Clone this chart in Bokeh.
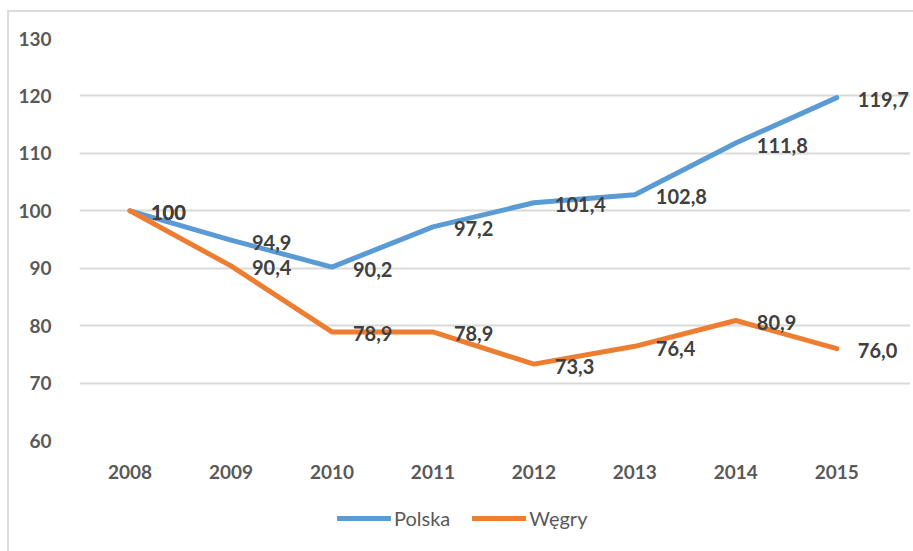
from bokeh.plotting import figure
from bokeh.models import ColumnDataSource, Legend, LegendItem, FixedTicker, Range1d, InlineStyleSheet
from bokeh.layouts import column
from bokeh.core.properties import value
from bokeh.embed import file_html
from bokeh.resources import INLINE

years = ["2008", "2009", "2010", "2011", "2012", "2013", "2014", "2015"]
polska = [100, 94.9, 90.2, 97.2, 101.4, 102.8, 111.8, 119.7]
wegry = [100, 90.4, 78.9, 78.9, 73.3, 76.4, 80.9, 76.0]
polska_labels = ["100", "94,9", "90,2", "97,2", "101,4", "102,8", "111,8", "119,7"]
wegry_labels = ["100", "90,4", "78,9", "78,9", "73,3", "76,4", "80,9", "76,0"]
y_ticks = [60, 70, 80, 90, 100, 110, 120, 130]

BLUE = "#5B9BD5"
ORANGE = "#ED7D31"
FONT = "Lato"

idx = list(range(len(years)))

p = figure(x_range=Range1d(-0.5, 7.73), y_range=Range1d(60, 130), width=910, height=488,
           output_backend="svg", toolbar_location=None,
           min_border_left=79, min_border_right=0, min_border_top=38, min_border_bottom=48)
p.outline_line_color = None

src_p = ColumnDataSource(dict(x=idx, y=polska, t=polska_labels))
src_w = ColumnDataSource(dict(x=idx, y=wegry, t=wegry_labels))

r_p = p.line("x", "y", source=src_p, line_color=BLUE, line_width=5,
             line_cap="round", line_join="round")
r_w = p.line("x", "y", source=src_w, line_color=ORANGE, line_width=5,
             line_cap="round", line_join="round")

for src in (src_w, src_p):
    p.text("x", "y", text="t", source=src, x_offset=21, y_offset=2,
           text_align="left", text_baseline="middle",
           text_font=value(FONT), text_font_style="bold",
           text_font_size="20px", text_color="#404040")

p.ygrid.grid_line_color = "#D9D9D9"
p.ygrid.grid_line_width = 2
p.ygrid.bounds = (-0.5, len(years) - 0.5)
p.xgrid.grid_line_color = None
p.yaxis.ticker = FixedTicker(ticks=y_ticks)
p.xaxis.ticker = FixedTicker(ticks=idx)
p.xaxis.major_label_overrides = {i: y for i, y in zip(idx, years)}

for ax in (p.xaxis, p.yaxis):
    ax.axis_line_color = None
    ax.major_tick_line_color = None
    ax.minor_tick_line_color = None
    ax.major_label_text_font = FONT
    ax.major_label_text_font_style = "bold"
    ax.major_label_text_font_size = "19px"
    ax.major_label_text_color = "#595959"
p.xaxis.major_label_standoff = 18
p.yaxis.major_label_standoff = 22

# legend panel below the chart
p2 = figure(width=910, height=60, x_range=Range1d(0, 1), y_range=Range1d(0, 1),
            output_backend="svg", toolbar_location=None,
            x_axis_type=None, y_axis_type=None,
            min_border_left=0, min_border_right=0, min_border_top=0, min_border_bottom=0)
p2.outline_line_color = None
p2.xgrid.grid_line_color = None
p2.ygrid.grid_line_color = None
# off-screen samples: only used to draw the legend glyphs
l_p = p2.line([-10, -9], [-10, -10], line_color=BLUE, line_width=5, line_cap="round")
l_w = p2.line([-10, -9], [-10, -10], line_color=ORANGE, line_width=5, line_cap="round")

legend = Legend(items=[LegendItem(label="Polska", renderers=[l_p]),
                       LegendItem(label="Węgry", renderers=[l_w])],
                orientation="horizontal", location=(258, 18),
                glyph_width=54, glyph_height=20, label_height=20,
                label_text_font=FONT, label_text_font_size="20px",
                label_text_color="#595959", border_line_color=None,
                background_fill_alpha=0,
                spacing=22, label_standoff=3, margin=0, padding=0)
p2.add_layout(legend)

frame_css = InlineStyleSheet(css="""
:host { position: relative; }
:host::after {
  content: ""; position: absolute; left: 7px; top: 10px; right: -20px; bottom: -20px;
  border: 2px solid #DCDCDC; pointer-events: none;
}
""")

layout = column(p, p2, spacing=0, stylesheets=[frame_css])
open("out.html", "w").write(file_html(layout, INLINE))
